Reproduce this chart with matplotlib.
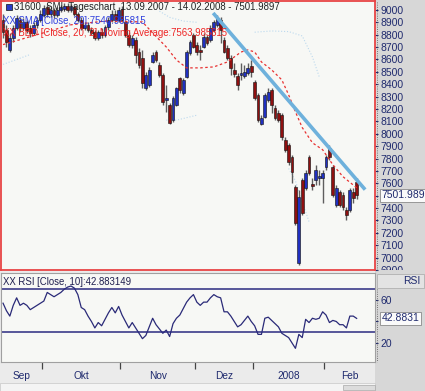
import numpy as np
import pandas as pd
import matplotlib
matplotlib.use('Agg')
import matplotlib.pyplot as plt
from matplotlib.patches import Rectangle
from matplotlib.lines import Line2D
from matplotlib.transforms import Bbox, TransformedBbox

plt.rcParams['font.family'] = ['Liberation Sans', 'DejaVu Sans']

# SIX trading days 13.09.2007 - 14.02.2008
holidays = ['2007-12-24', '2007-12-25', '2007-12-26', '2007-12-31', '2008-01-01', '2008-01-02']
dates = pd.bdate_range('2007-09-13', '2008-02-14')
dates = dates[~dates.isin(pd.to_datetime(holidays))]

opens = [8919, 8838, 8677, 8774, 8854, 8919, 8854, 8903, 8854, 8814,
         8879, 8919, 8959, 9024, 8967, 8999, 8959, 8999, 9007, 9032,
         8999, 9024, 8967, 8919, 8854, 8879, 8838, 8822, 8774, 8822,
         8798, 8862, 8919, 8967, 8919, 9007, 8903, 8798, 8717, 8758,
         8661, 8613, 8371, 8395, 8580, 8661, 8556, 8476, 8274, 8234,
         8113, 8234, 8451, 8330, 8459, 8653, 8798, 8717, 8677, 8701,
         8782, 8758, 8838, 8879, 8919, 8758, 8693, 8613, 8516, 8467,
         8476, 8467, 8492, 8548, 8419, 8314, 8081, 8137, 8274, 8355,
         8210, 8169, 8153, 7952, 7911, 7815, 7573, 6960, 7629, 7565,
         7815, 7597, 7629, 7645, 7645, 7734, 7887, 7734, 7428, 7532,
         7508, 7387, 7387, 7532, 7613]
closes = [8822, 8741, 8774, 8854, 8935, 8854, 8903, 8838, 8814, 8879,
          8919, 8967, 9016, 8967, 8999, 8959, 8999, 9024, 9032, 8999,
          9032, 8967, 8919, 8854, 8879, 8838, 8814, 8774, 8822, 8798,
          8862, 8919, 8967, 8919, 8999, 8919, 8798, 8717, 8774, 8637,
          8556, 8411, 8476, 8516, 8637, 8596, 8476, 8258, 8290, 8089,
          8290, 8371, 8355, 8435, 8661, 8741, 8701, 8661, 8661, 8782,
          8733, 8854, 8903, 8935, 8838, 8661, 8613, 8532, 8484, 8395,
          8492, 8500, 8532, 8500, 8290, 8113, 8129, 8314, 8338, 8234,
          8129, 8113, 7976, 7871, 7774, 7694, 7283, 7492, 7363, 7686,
          7686, 7581, 7710, 7661, 7686, 7815, 7815, 7508, 7565, 7428,
          7412, 7347, 7549, 7484, 7501.99]
highs = [8967, 8879, 8814, 8879, 8959, 8943, 8935, 8919, 8879, 8903,
         8943, 8999, 9040, 9040, 9024, 9016, 9024, 9040, 9056, 9056,
         9048, 9040, 8983, 8943, 8903, 8903, 8862, 8838, 8838, 8854,
         8879, 8943, 8999, 8999, 9024, 9032, 8919, 8822, 8798, 8782,
         8693, 8677, 8500, 8540, 8661, 8677, 8580, 8492, 8395, 8250,
         8306, 8379, 8459, 8451, 8677, 8758, 8814, 8741, 8717, 8814,
         8798, 8879, 8919, 8959, 8943, 8782, 8717, 8637, 8572, 8492,
         8572, 8556, 8572, 8596, 8435, 8330, 8153, 8330, 8371, 8371,
         8234, 8193, 8169, 7976, 7927, 7831, 7589, 7549, 7645, 7710,
         7831, 7645, 7750, 7710, 7710, 7831, 7911, 7750, 7589, 7549,
         7532, 7412, 7565, 7565, 7645]
lows = [8774, 8701, 8661, 8741, 8838, 8822, 8838, 8814, 8782, 8798,
        8854, 8903, 8943, 8943, 8943, 8935, 8943, 8983, 8991, 8983,
        8983, 8951, 8903, 8838, 8838, 8822, 8798, 8758, 8758, 8774,
        8782, 8838, 8903, 8903, 8903, 8903, 8782, 8701, 8693, 8572,
        8532, 8371, 8355, 8379, 8572, 8580, 8459, 8234, 8177, 8081,
        8097, 8226, 8330, 8314, 8451, 8637, 8693, 8637, 8596, 8693,
        8717, 8741, 8822, 8862, 8733, 8653, 8596, 8476, 8459, 8355,
        8435, 8451, 8476, 8459, 8274, 8097, 8073, 8129, 8258, 8169,
        8113, 8097, 7952, 7855, 7750, 7605, 7267, 6944, 7347, 7549,
        7670, 7549, 7589, 7589, 7444, 7710, 7790, 7492, 7412, 7412,
        7387, 7307, 7371, 7444, 7476]

# BBD moving average (red dashed), read at some days
ma_idx = [0, 10, 20, 30, 41, 44, 48, 51, 54, 58, 62, 66, 70, 72, 74, 76,
          79, 82, 84, 86, 88, 91, 94, 97, 100, 104]
ma_val = [8720, 8800, 8880, 8910, 8903, 8814, 8701, 8596, 8532, 8532, 8540,
          8580, 8660, 8677, 8661, 8580, 8516, 8435, 8314, 8177, 8050, 7927,
          7871, 7750, 7653, 7564]

# faint band pieces (light blue dotted)
bb_up_idx = [46, 49, 53, 57, 60, 74, 79, 84, 88, 91, 93]
bb_up_val = [8990, 8940, 8910, 8900, np.nan, 8820, 8830, 8825, 8790, 8620, 8460]
bb_lo_idx = [0, 4, 8, 12, 48, 51, 54, 57, 60, 84, 86, 88, 90]
bb_lo_val = [8560, 8600, 8640, np.nan, 8110, 8110, 8130, 8150, np.nan,
             7720, 7620, 7450, 7290]

# hand drawn trend line
trend_idx = [61.8, 106.5]
trend_val = [8975, 7549]

rsi = [57, 50, 45, 55, 62, 55, 57, 55, 51, 53,
       55, 57, 59, 67, 65, 63, 65, 67, 70, 72,
       73, 71, 65, 53, 51, 45, 40, 34, 39, 36,
       42, 48, 53, 48, 54, 46, 40, 34, 39, 34,
       29, 24, 27, 35, 43, 37, 33, 29, 32, 26,
       38, 43, 46, 52, 58, 62, 65, 58, 55, 58,
       58, 62, 65, 63, 62, 49, 49, 45, 40, 35,
       37, 41, 45, 40, 36, 28, 28, 43, 44, 41,
       38, 35, 29, 27, 25, 20, 15, 28, 25, 42,
       39, 43, 42, 43, 49, 46, 39, 41, 40, 37,
       37, 34, 45, 45, 42.88]

month_labels = ['Sep', 'Okt', 'Nov', 'Dez', '2008', 'Feb']
price_ticks = list(range(6900, 9001, 100))
rsi_ticks = [20, 40, 60]
# labels hidden behind the last-value boxes
price_hidden = 7500
rsi_hidden = 40

W, H = 425, 391
NAVY = '#1f2a6e'


def frame(x0, y0, x1, y1):
    return [x0 / W, 1 - y1 / H, (x1 - x0) / W, (y1 - y0) / H]


fig = plt.figure(figsize=(W / 100, H / 100), dpi=100)
fig.patch.set_facecolor('#ebebeb')

bg = fig.add_axes(frame(375, 0, 425, 391), zorder=-5)
bg.set_facecolor('#d7d7d7')
bg.set_xticks([])
bg.set_yticks([])
for s in bg.spines.values():
    s.set_visible(False)

x = np.arange(len(dates))
o = np.array(opens, float)
c = np.array(closes, float)
hi = np.array(highs, float)
lo = np.array(lows, float)
up = c >= o
xmin, xmax = -0.6, 109.4

# price panel
ax = fig.add_axes(frame(1, 1, 375, 270))
ax.set_facecolor('#f7f8f5')
ax.vlines(x, lo, hi, color='#5e5e5e', lw=1.0, zorder=2)
ax.bar(x[up], (c - o)[up], bottom=o[up], width=0.8, color='#2030c0',
       edgecolor='#111111', lw=0.4, zorder=3)
ax.bar(x[~up], (o - c)[~up], bottom=c[~up], width=0.8, color='#8e1010',
       edgecolor='#111111', lw=0.4, zorder=3)
ax.plot(ma_idx, ma_val, color='#e83030', lw=0.9, ls=(0, (2, 2)), zorder=4)
ax.plot(bb_up_idx, bb_up_val, color='#bcd9ee', lw=0.8, ls=':', zorder=1)
ax.plot(bb_lo_idx, bb_lo_val, color='#bcd9ee', lw=0.8, ls=':', zorder=1)
ax.plot(trend_idx, trend_val, color='#6eb1dc', lw=2.6, solid_capstyle='butt', zorder=5)
ax.set_xlim(xmin, xmax)
ax.set_ylim(6904, 9072)
ax.set_xticks([])
ax.yaxis.tick_right()
ax.set_yticks(price_ticks)
ax.set_yticklabels(['' if t == price_hidden else str(t) for t in price_ticks])
ax.tick_params(axis='y', direction='out', length=2.5, width=0.8, pad=1.5,
               labelsize=7.5, colors=NAVY)
for s in ax.spines.values():
    s.set_color('#e84545')
    s.set_linewidth(1.3)
clip = TransformedBbox(Bbox.from_extents(0, 121 / H, 1, 1), fig.transFigure)
for t in ax.get_yticklabels():
    t.set_clip_box(clip)
    t.set_clip_on(True)
ax.annotate('7501.989', xy=(1, closes[-1]), xycoords=('axes fraction', 'data'),
            xytext=(6, 0), textcoords='offset pixels', va='center', ha='left',
            fontsize=7.5, color=NAVY, zorder=10, annotation_clip=False,
            bbox=dict(boxstyle='square,pad=0.12', fc='#fafafa', ec='#8a8a8a', lw=0.6))

# RSI panel
ra = fig.add_axes(frame(1, 273, 375, 362))
ra.set_facecolor('#f7f8f5')
ra.plot(x, rsi, color='#2a2a78', lw=0.9)
ra.axhline(70, color='#2b2b80', lw=1.1)
ra.axhline(30, color='#2b2b80', lw=1.1)
ra.set_xlim(xmin, xmax)
ra.set_ylim(2.3, 85.1)
ra.yaxis.tick_right()
ra.set_yticks(rsi_ticks)
ra.set_yticklabels(['' if t == rsi_hidden else str(t) for t in rsi_ticks])
ra.tick_params(axis='y', direction='out', length=2.5, width=0.8, pad=1.5,
               labelsize=7.5, colors=NAVY)
for s in ra.spines.values():
    s.set_color('#a0a0a0')
    s.set_linewidth(0.8)

month_start = [i for i in range(1, len(dates)) if dates[i].month != dates[i - 1].month]
bounds = [m - 0.5 for m in month_start]
edges = [xmin] + bounds + [xmax]
centers = [(a + b) / 2 for a, b in zip(edges[:-1], edges[1:])]
ra.set_xticks(bounds)
ra.set_xticklabels([])
ra.tick_params(axis='x', which='major', direction='out', length=5, width=0.9, colors='#444444')
ra.set_xticks(centers, minor=True)
ra.set_xticklabels(month_labels, minor=True)
ra.tick_params(axis='x', which='minor', length=0, pad=6.5, labelsize=7.3, labelcolor=NAVY)
ra.annotate('42.8831', xy=(1, rsi[-1]), xycoords=('axes fraction', 'data'),
            xytext=(7, 0), textcoords='offset pixels', va='center', ha='left',
            fontsize=7.5, color=NAVY, zorder=10, annotation_clip=False,
            bbox=dict(boxstyle='square,pad=0.15', fc='#fafafa', ec='#8a8a8a', lw=0.6))


def ftext(px, py, s, **kw):
    fig.text(px / W, 1 - py / H, s, va='center', ha='left', **kw)


# header texts
fig.add_artist(Rectangle((6 / W, 1 - 10 / H), 6 / W, 6 / H, transform=fig.transFigure,
                         fc='#2a3cc8', ec='#111111', lw=0.5))
ftext(14, 7, '31600  SMI, Tageschart  13.09.2007 - 14.02.2008 - 7501.9897',
      fontsize=6.9, color='#222222')
ftext(3, 21, 'XX SMA [Close, 20]:7540.985815', fontsize=6.9, color='#3040dd')
ftext(3, 33, 'XX BBD [Close, 20, 2] Moving Average:7563.985815', fontsize=6.9, color='#ee2424')
ftext(3, 282, 'XX RSI [Close, 10]:42.883149', fontsize=6.9, color='#1f1f4f')

# right panel decorations
fig.add_artist(Line2D([377 / W, 377 / W], [1 - 2 / H, 1 - 270 / H], transform=fig.transFigure,
                      ls=':', color='#555555', lw=0.6))
fig.add_artist(Line2D([377 / W, 377 / W], [1 - 289 / H, 1 - 362 / H], transform=fig.transFigure,
                      ls=':', color='#555555', lw=0.6))
fig.add_artist(Rectangle((377 / W, 1 - 288 / H), 47 / W, 14 / H, transform=fig.transFigure,
                         fc='#e3e3e3', ec='#b0b0b0', lw=0.6))
fig.text(420 / W, 1 - 281 / H, 'RSI', ha='right', va='center', fontsize=7.5, color=NAVY)

# scroll strip at the bottom
fig.add_artist(Rectangle((0, 0), 375 / W, 8 / H, transform=fig.transFigure,
                         fc='#f4f4f4', ec='#c8c8c8', lw=0.5))
fig.add_artist(Rectangle((343 / W, 1 / H), 32 / W, 5 / H, transform=fig.transFigure,
                         fc='#dcdcdc', ec='#a8a8a8', lw=0.5))

fig.savefig('out.png', dpi=100, facecolor=fig.get_facecolor())
